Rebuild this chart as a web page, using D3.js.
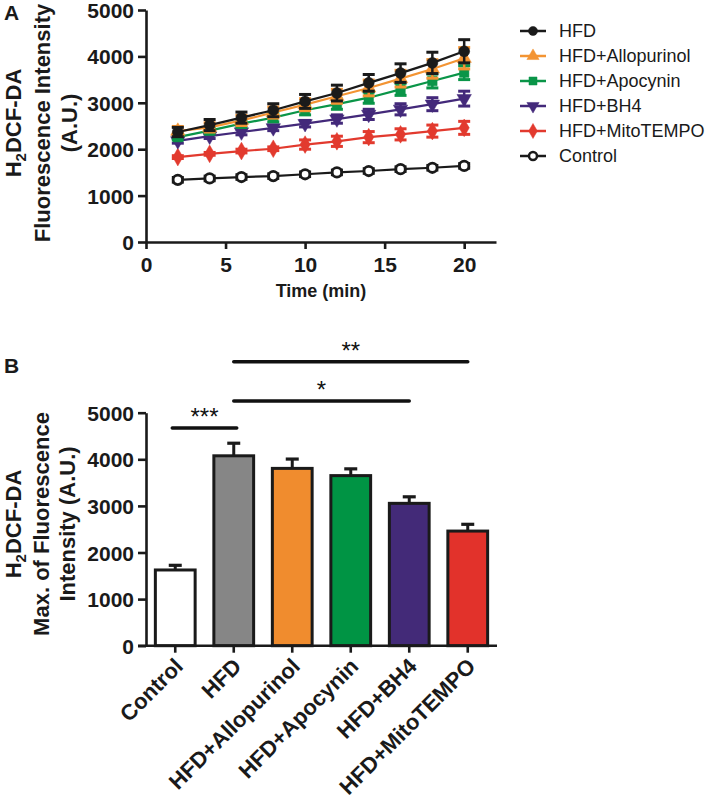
<!DOCTYPE html>
<html><head><meta charset="utf-8">
<script src="https://cdn.jsdelivr.net/npm/d3@7"></script>
<style>
body{margin:0;background:#fff;}
svg{display:block;font-family:"Liberation Sans",Arial,sans-serif;}
</style></head>
<body><svg id="c" width="709" height="804"></svg>
<script>
// ---------- DATA ----------
const time = [2,4,6,8,10,12,14,16,18,20];
const seriesNames = ["HFD","HFD+Allopurinol","HFD+Apocynin","HFD+BH4","HFD+MitoTEMPO","Control"];
const hfd     = [2370,2520,2680,2840,3030,3210,3430,3640,3860,4110];
const hfdErr  = [100,120,120,140,150,170,180,200,230,250];
const allo    = [2390,2470,2620,2790,2960,3140,3320,3520,3730,3960];
const alloErr = [100,100,110,120,130,150,170,180,200,230];
const apo     = [2260,2400,2550,2680,2840,2970,3110,3290,3470,3650];
const apoErr  = [60,70,80,90,100,110,120,130,150,150];
const bh4     = [2180,2280,2370,2460,2550,2650,2750,2860,2970,3090];
const bh4Err  = [50,50,60,60,70,90,110,120,140,160];
const mito    = [1830,1900,1960,2010,2100,2170,2260,2320,2390,2460];
const mitoErr = [30,30,40,40,100,110,120,120,130,140];
const ctrl    = [1340,1370,1400,1420,1460,1500,1530,1570,1600,1640];
const ctrlErr = [50,50,50,50,50,50,50,50,50,50];
const xTicksA = [0,5,10,15,20];
const yTicks  = [0,1000,2000,3000,4000,5000];

const barCats = ["Control","HFD","HFD+Allopurinol","HFD+Apocynin","HFD+BH4","HFD+MitoTEMPO"];
const barVals = [1625,4075,3805,3650,3055,2460];
const barErr  = [100,270,200,145,140,145];
const sigPairs  = [["Control","HFD"],["HFD","HFD+BH4"],["HFD","HFD+MitoTEMPO"]];
const sigLabels = ["***","*","**"];
const sigLevels = [4670,5250,6095];

// ---------- STYLE ----------
const lineColors = ["#1a1a1a","#f39433","#0a9548","#43297a","#e23a2e","#1a1a1a"];
const barColors  = ["#ffffff","#868686","#f08c2e","#009444","#432a78","#e2322b"];
const symbols = [d3.symbolCircle,d3.symbolTriangle,d3.symbolSquare,"tri-down",d3.symbolDiamond,"open"];

const svg = d3.select("#c");
const FONT = '"Liberation Sans",Arial,sans-serif';
const TICKFS = 21;

function symPath(k, size){
  const s = symbols[k];
  if (s === "tri-down") return d3.symbol(d3.symbolTriangle, size)();
  if (s === "open") return d3.symbol(d3.symbolCircle, size)();
  return d3.symbol(s, size)();
}
function symTransform(k){ return symbols[k]==="tri-down" ? " rotate(180)" : ""; }

// ---------- PANEL A ----------
const xA = d3.scaleLinear().domain([0,22]).range([146,496]);
const yA = d3.scaleLinear().domain([0,5000]).range([242,10]);

const gA = svg.append("g");
const axYA = gA.append("g").attr("transform","translate(146,0)")
  .call(d3.axisLeft(yA).tickValues(yTicks).tickFormat(d3.format("d")).tickSize(8).tickPadding(4).tickSizeOuter(0));
const axXA = gA.append("g").attr("transform","translate(0,242)")
  .call(d3.axisBottom(xA).tickValues(xTicksA).tickFormat(d3.format("d")).tickSize(7).tickPadding(6).tickSizeOuter(0));
[axYA,axXA].forEach(a=>{
  a.selectAll("path,line").attr("stroke","#1a1a1a").attr("stroke-width",2.6);
  a.selectAll("text").attr("font-family",FONT).attr("font-weight","bold").attr("font-size",TICKFS).attr("fill","#1a1a1a");
});
axXA.selectAll("text").attr("dy","0.8em");
axYA.selectAll("text").attr("dy","0.36em");

gA.append("text").attr("x",321).attr("y",297).attr("text-anchor","middle")
  .attr("font-weight","bold").attr("font-size",18).attr("fill","#1a1a1a").text("Time (min)");

function yTitle(g, cx, lines, xs, fs){
  lines.forEach((ln,i)=>{
    const t = g.append("text").attr("transform",`translate(${xs[i]},${cx}) rotate(-90)`)
      .attr("text-anchor","middle").attr("font-weight","bold").attr("font-size",fs).attr("fill","#1a1a1a");
    if (ln === "H2DCF-DA"){
      t.append("tspan").text("H");
      t.append("tspan").attr("font-size",fs*0.68).attr("dy",5).text("2");
      t.append("tspan").attr("dy",-5).text("DCF-DA");
    } else t.text(ln);
  });
}
yTitle(gA, 123, ["H2DCF-DA","Fluorescence Intensity","(A.U.)"], [21,50,77], 22);
gA.append("text").attr("x",4).attr("y",20).attr("font-weight","bold").attr("font-size",21).attr("fill","#1a1a1a").text("A");

const allVals = [hfd,allo,apo,bh4,mito,ctrl];
const allErr  = [hfdErr,alloErr,apoErr,bh4Err,mitoErr,ctrlErr];
const drawOrder = [5,4,3,2,1,0];
drawOrder.forEach(k=>{
  const col = lineColors[k];
  const pts = time.map((t,i)=>({t, v:allVals[k][i], e:allErr[k][i]}));
  const g = gA.append("g");
  g.append("path").datum(pts).attr("fill","none").attr("stroke",col).attr("stroke-width",2.2)
    .attr("d", d3.line().x(d=>xA(d.t)).y(d=>yA(d.v)));
  const eb = g.selectAll(".eb").data(pts).enter().append("g");
  eb.append("line").attr("x1",d=>xA(d.t)).attr("x2",d=>xA(d.t)).attr("y1",d=>yA(d.v+d.e)).attr("y2",d=>yA(d.v-d.e))
    .attr("stroke",col).attr("stroke-width",2.5);
  [1,-1].forEach(s=>{
    eb.append("line").attr("x1",d=>xA(d.t)-6).attr("x2",d=>xA(d.t)+6)
      .attr("y1",d=>yA(d.v+s*d.e)).attr("y2",d=>yA(d.v+s*d.e)).attr("stroke",col).attr("stroke-width",3);
  });
  g.selectAll(".m").data(pts).enter().append("path")
    .attr("d", symPath(k, k===5?70:(k===0?95:90)))
    .attr("transform",d=>`translate(${xA(d.t)},${yA(d.v)})`+symTransform(k))
    .attr("fill", symbols[k]==="open" ? "#fff" : col)
    .attr("stroke", col).attr("stroke-width", symbols[k]==="open" ? 2.8 : 0.5);
});

// Legend
const lg = gA.append("g");
seriesNames.forEach((name,k)=>{
  const cy = 31 + k*25;
  const col = lineColors[k];
  lg.append("line").attr("x1",520).attr("x2",546).attr("y1",cy).attr("y2",cy).attr("stroke",col).attr("stroke-width",2.5);
  lg.append("path").attr("d",symPath(k, k===5?50:65))
    .attr("transform",`translate(533,${cy})`+symTransform(k))
    .attr("fill", symbols[k]==="open" ? "#fff" : col).attr("stroke",col).attr("stroke-width",symbols[k]==="open"?2.5:0.5);
  lg.append("text").attr("x",559).attr("y",cy).attr("dy","0.36em").attr("font-size",18).attr("fill","#1a1a1a").text(name);
});

// ---------- PANEL B ----------
const xB = d3.scaleBand().domain(barCats).range([146,497]).paddingInner(0.32).paddingOuter(0.16);
const yB = d3.scaleLinear().domain([0,5000]).range([645.7,412.7]);
const gB = svg.append("g");

gB.append("text").attr("x",4).attr("y",373).attr("font-weight","bold").attr("font-size",21).attr("fill","#1a1a1a").text("B");

const bars = gB.selectAll(".bar").data(barCats).enter().append("g");
bars.append("line").attr("x1",d=>xB(d)+xB.bandwidth()/2).attr("x2",d=>xB(d)+xB.bandwidth()/2)
  .attr("y1",(d,i)=>yB(barVals[i])).attr("y2",(d,i)=>yB(barVals[i]+barErr[i])).attr("stroke","#1a1a1a").attr("stroke-width",3);
bars.append("line").attr("x1",d=>xB(d)+xB.bandwidth()/2-6.5).attr("x2",d=>xB(d)+xB.bandwidth()/2+6.5)
  .attr("y1",(d,i)=>yB(barVals[i]+barErr[i])).attr("y2",(d,i)=>yB(barVals[i]+barErr[i])).attr("stroke","#1a1a1a").attr("stroke-width",3.2);
bars.append("rect").attr("x",d=>xB(d)).attr("width",xB.bandwidth())
  .attr("y",(d,i)=>yB(barVals[i])).attr("height",(d,i)=>yB(0)-yB(barVals[i]))
  .attr("fill",(d,i)=>barColors[i]).attr("stroke","#1a1a1a").attr("stroke-width",3);

const axYB = gB.append("g").attr("transform","translate(146,0)")
  .call(d3.axisLeft(yB).tickValues(yTicks).tickFormat(d3.format("d")).tickSize(8).tickPadding(4).tickSizeOuter(0));
const axXB = gB.append("g").attr("transform",`translate(0,${yB(0)})`)
  .call(d3.axisBottom(xB).tickSize(7).tickSizeOuter(0));
axXB.select("path.domain").attr("d","M138,0H497");
[axYB,axXB].forEach(a=>{
  a.selectAll("path,line").attr("stroke","#1a1a1a").attr("stroke-width",2.6);
  a.selectAll("text").attr("font-family",FONT).attr("font-weight","bold").attr("font-size",TICKFS).attr("fill","#1a1a1a");
});
axYB.selectAll("text").attr("dy","0.36em");
axXB.selectAll("text").attr("text-anchor","end").attr("dy",0).attr("y",0).attr("font-size",22)
  .attr("transform","translate(9,22) rotate(-45)");

yTitle(gB, 524, ["H2DCF-DA","Max. of Fluorescence","Intensity (A.U.)"], [21,49,75], 22);

// significance
sigPairs.forEach((p,i)=>{
  const x1 = xB(p[0])+xB.bandwidth()/2 - (i===0?3:0), x2 = xB(p[1])+xB.bandwidth()/2 + (i===0?3:0);
  const y = yB(sigLevels[i]);
  gB.append("line").attr("x1",x1).attr("x2",x2).attr("y1",y).attr("y2",y).attr("stroke","#111").attr("stroke-width",3.5).attr("stroke-linecap","round");
  gB.append("text").attr("x",(x1+x2)/2).attr("y",y-3).attr("text-anchor","middle").attr("font-size",24).attr("fill","#111").text(sigLabels[i]);
});
</script></body></html>
